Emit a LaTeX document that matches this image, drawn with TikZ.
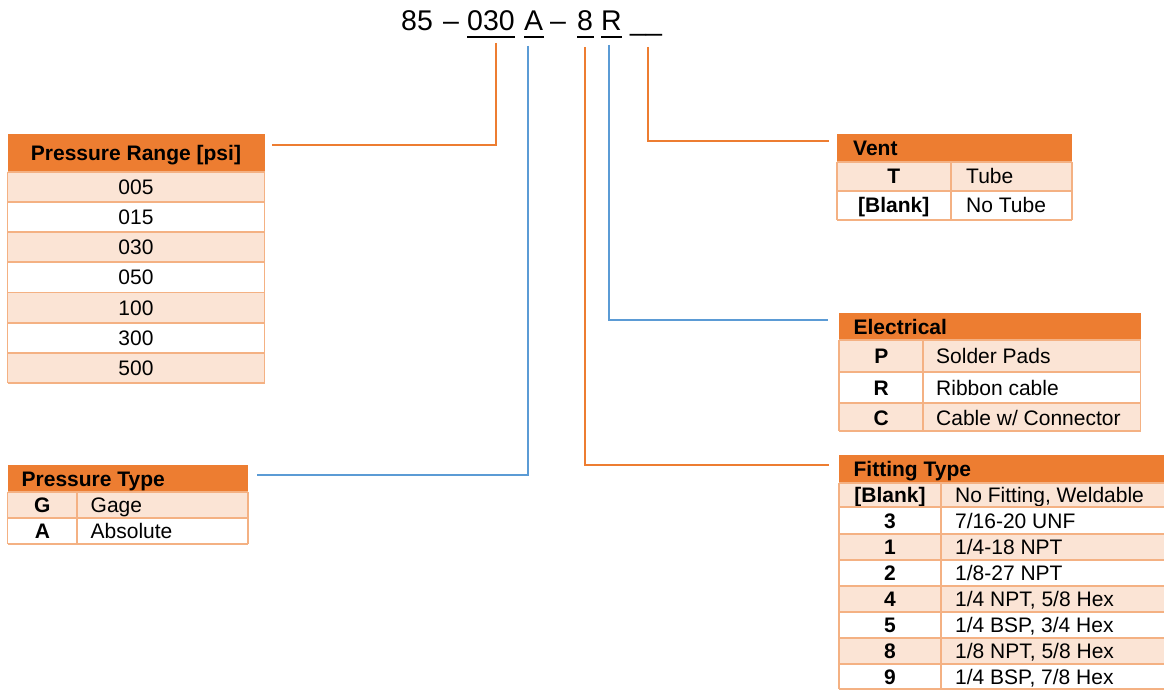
\documentclass[tikz,border=0pt]{standalone}
\usepackage{fontspec}
\setmainfont{Liberation Sans}
\definecolor{hdr}{HTML}{ED7D31}
\definecolor{lite}{HTML}{FBE4D5}
\definecolor{brd}{HTML}{F4B183}
\definecolor{blu}{HTML}{5B9BD5}
\begin{document}
\begin{tikzpicture}[x=1pt,y=-1pt,
  tfont/.style={font=\fontsize{21}{25}\selectfont},
  ccell/.style={font=\fontsize{21}{25}\selectfont\bfseries, inner sep=0pt, anchor=base},
  mcell/.style={font=\fontsize{21}{25}\selectfont, inner sep=0pt, anchor=base},
  dcell/.style={font=\fontsize{21}{25}\selectfont, inner sep=0pt, anchor=base west},
  hcell/.style={font=\fontsize{21}{25}\selectfont\bfseries, inner sep=0pt, anchor=base west},
  codetxt/.style={font=\fontsize{28.5}{32}\selectfont, inner sep=0pt, anchor=base west},
  uline/.style={line width=2pt, black},
  grid/.style={brd, line width=1.8pt},
  oline/.style={hdr, line width=2pt},
  bline/.style={blu, line width=2pt}
]
\useasboundingbox (0,0) rectangle (1164,690);

% ---------- part number ----------
\node[codetxt] (p85) at (401,31) {85};
\node[codetxt] (d1) at (443,31) {–};
\node[codetxt] (p030) at (467,31) {030};
\node[codetxt] (pA) at (524,31) {A};
\node[codetxt] (d2) at (550,31) {–};
\node[codetxt] (p8) at (577,31) {8};
\node[codetxt] (pR) at (601,31) {R};
\node[codetxt] (pV) at (630,31) {\_\_};
\draw[uline] (p030.base west) ++(0,6) -- ++(48,0);
\draw[uline] (pA.base west) ++(0,6) -- ++(20,0);
\draw[uline] (p8.base west) ++(0,6) -- ++(17,0);
\draw[uline] (pR.base west) ++(0,6) -- ++(21,0);

% ---------- Pressure Range ----------
\fill[hdr] (7.5,134.5) rectangle (264.5,171.7);
\foreach \t/\b/\c/\v in {171.7/201.9/lite/005, 201.9/232.1/white/015, 232.1/262.3/lite/030,
  262.3/292.5/white/050, 292.5/322.7/lite/100, 322.7/352.9/white/300, 352.9/383.1/lite/500}{
  \fill[\c] (7.5,\t) rectangle (264.5,\b);
  \node[mcell] at (136,{(\t+\b)/2+7.5}) {\v};
}
\foreach \y in {171.7,201.9,232.1,262.3,292.5,322.7,352.9,383.1} \draw[grid] (7.5,\y) -- (264.5,\y);
\draw[grid] (7.5,171.7) -- (7.5,383.1) (264.5,171.7) -- (264.5,383.1);
\node[ccell] (prh) at (136,160.5) {Pressure Range [psi]};

% ---------- Pressure Type ----------
\fill[hdr] (7.5,465) rectangle (248,492.3);
\fill[lite] (7.5,492.3) rectangle (248,517.7);
\fill[white] (7.5,517.7) rectangle (248,544.3);
\foreach \y in {492.3,517.7,544.3} \draw[grid] (7.5,\y) -- (248,\y);
\draw[grid] (7.5,492.3) -- (7.5,544.3) (77.3,492.3) -- (77.3,544.3) (248,492.3) -- (248,544.3);
\node[hcell] (pth) at (21.5,486.5) {Pressure Type};
\node[ccell] at (42.4,512.5) {G};
\node[dcell] at (90.5,512.5) {Gage};
\node[ccell] at (42.4,538.5) {A};
\node[dcell] at (90.5,538.5) {Absolute};

% ---------- Vent ----------
\fill[hdr] (836.7,134.5) rectangle (1072,161.7);
\fill[lite] (836.7,161.7) rectangle (1072,190.7);
\fill[white] (836.7,190.7) rectangle (1072,220);
\foreach \y in {161.7,190.7,220} \draw[grid] (836.7,\y) -- (1072,\y);
\draw[grid] (836.7,161.7) -- (836.7,220) (951,161.7) -- (951,220) (1072,161.7) -- (1072,220);
\node[hcell] (vh) at (853,156) {Vent};
\node[ccell] at (893.8,183.7) {T};
\node[dcell] at (966,183.7) {Tube};
\node[ccell] at (893.8,212.8) {[Blank]};
\node[dcell] at (966,212.8) {No Tube};

% ---------- Electrical ----------
\fill[hdr] (839.3,313.3) rectangle (1140.5,340);
\fill[lite] (839.3,340) rectangle (1140.5,371.7);
\fill[white] (839.3,371.7) rectangle (1140.5,403.3);
\fill[lite] (839.3,403.3) rectangle (1140.5,431);
\foreach \y in {340,371.7,403.3,431} \draw[grid] (839.3,\y) -- (1140.5,\y);
\draw[grid] (839.3,340) -- (839.3,431) (923.3,340) -- (923.3,431) (1140.5,340) -- (1140.5,431);
\node[hcell] (eh) at (853.4,334) {Electrical};
\node[ccell] at (881.3,363.3) {P};
\node[dcell] at (936,363.3) {Solder Pads};
\node[ccell] at (881.3,395) {R};
\node[dcell] at (936,395) {Ribbon cable};
\node[ccell] at (881.3,425) {C};
\node[dcell] at (936,425) {Cable w/ Connector};

% ---------- Fitting Type ----------
\fill[hdr] (839.3,455) rectangle (1170,482.7);
\foreach \t/\b/\c/\k/\d in {482.7/507.3/lite/{[Blank]}/{No Fitting, Weldable},
  507.3/534/white/3/{7/16-20 UNF}, 534/560/lite/1/{1/4-18 NPT}, 560/586/white/2/{1/8-27 NPT},
  586/612.3/lite/4/{1/4 NPT, 5/8 Hex}, 612.3/638.3/white/5/{1/4 BSP, 3/4 Hex},
  638.3/664.3/lite/8/{1/8 NPT, 5/8 Hex}, 664.3/689.3/white/9/{1/4 BSP, 7/8 Hex}}{
  \fill[\c] (839.3,\t) rectangle (1170,\b);
  \node[ccell] at (890,{(\t+\b)/2+7.5}) {\k};
  \node[dcell] at (955,{(\t+\b)/2+7.5}) {\d};
}
\foreach \y in {482.7,507.3,534,560,586,612.3,638.3,664.3,689.3} \draw[grid] (839.3,\y) -- (1170,\y);
\draw[grid] (839.3,482.7) -- (839.3,689.3) (940.7,482.7) -- (940.7,689.3);
\node[hcell] (fh) at (853.4,476.5) {Fitting Type};

% ---------- connectors ----------
\coordinate (s1) at (496,43);
\coordinate (e1) at (272,145);
\coordinate (s2) at (528,46);
\coordinate (e2) at (257,475);
\coordinate (s3) at (585,47);
\coordinate (e3) at (829,465);
\coordinate (s4) at (609,45);
\coordinate (e4) at (828,320);
\coordinate (s5) at (648,47);
\coordinate (e5) at (829,141);
\draw[oline] (s1) |- (e1);
\draw[bline] (s2) |- (e2);
\draw[oline] (s3) |- (e3);
\draw[bline] (s4) |- (e4);
\draw[oline] (s5) |- (e5);
\end{tikzpicture}
\end{document}
